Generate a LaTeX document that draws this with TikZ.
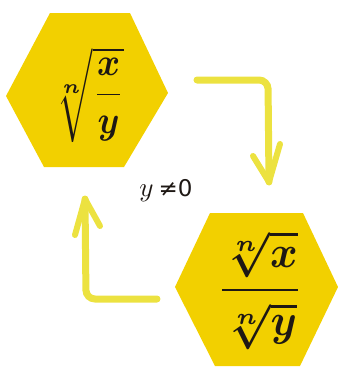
\documentclass[tikz,border=0pt]{standalone}
\usepackage{fontspec}
\newfontfamily\symfont{DejaVu Sans}
\definecolor{hexgold}{RGB}{242,208,0}
\definecolor{arrowyel}{RGB}{236,226,64}
\definecolor{inkc}{RGB}{30,24,20}
\tikzset{
  hexbox/.style={fill=hexgold, draw=none},
  flowline/.style={draw=arrowyel, line width=7pt, rounded corners=9pt, line cap=round},
  barb/.style={draw=arrowyel, line width=6pt, line cap=round, line join=round},
  mathlabel/.style={text=inkc, inner sep=0pt}
}
\begin{document}
\begin{tikzpicture}[x=1pt,y=-1pt]
\useasboundingbox (0,0) rectangle (338,368);
% hexagons
\path[hexbox] (50,13) -- (130,13) -- (168,93) -- (124,167) -- (44,167) -- (6,96) -- cycle;
\path[hexbox] (210,213) -- (303,213) -- (338,287) -- (300,366) -- (215,366) -- (175,287) -- cycle;
% texts
\node[mathlabel] (top) at (88,95) {\scalebox{3.5}[3.9]{\boldmath$\displaystyle\sqrt[n]{\frac{x}{y}}$}};
\node[mathlabel] (bot) at (260,290) {\scalebox{4.2}[4.5]{\boldmath$\displaystyle\frac{\sqrt[n]{x}}{\sqrt[n]{y}}$}};
\node[mathlabel] (cond) at (166,191) {\scalebox{2.7}{$y$}\hspace{5pt}{\symfont\fontsize{23}{26}\selectfont≠0}};
% arrow 1 (top right)
\coordinate (a1s) at (197,80);
\coordinate (a1c) at (268,80);
\coordinate (a1t) at (269,182);
\coordinate (a1l) at (253,156);
\coordinate (a1r) at (280,144);
\draw[flowline] (a1s) -- (a1c) -- (a1t);
\draw[barb] (a1l) -- (a1t) -- (a1r);
% arrow 2 (bottom left)
\coordinate (a2s) at (157,299);
\coordinate (a2c) at (86,299);
\coordinate (a2t) at (85,199);
\coordinate (a2l) at (75,235);
\coordinate (a2r) at (100,226);
\draw[flowline] (a2s) -- (a2c) -- (a2t);
\draw[barb] (a2l) -- (a2t) -- (a2r);
\end{tikzpicture}
\end{document}
